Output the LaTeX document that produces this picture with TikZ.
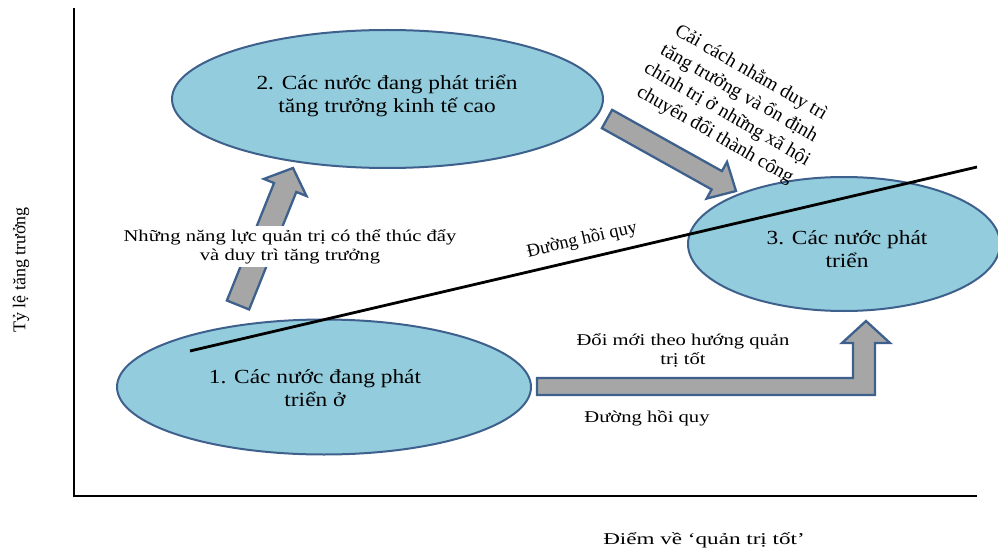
\documentclass[tikz,border=0pt]{standalone}
\usepackage{fontspec}
\setmainfont{Liberation Serif}
\newfontfamily\ellfont[FakeStretch=1.17]{Liberation Serif}
\newfontfamily\lblfont[FakeStretch=1.25]{Liberation Serif}
\newfontfamily\axfont[FakeStretch=1.4]{Liberation Serif}
\usetikzlibrary{calc,shapes.geometric}

\definecolor{ellfill}{RGB}{147,204,221}
\definecolor{ellline}{RGB}{62,96,140}
\definecolor{arrfill}{RGB}{166,166,166}

% block arrow: #1 tail, #2 tip, #3 half shaft width, #4 half head width, #5 head length
\newcommand\blockarrow[5]{%
  \coordinate (hb) at ($(#2)!#5!(#1)$);
  \filldraw[blockarr]
    ($(#1)!#3!90:(#2)$) -- ($(hb)!#3!90:(#2)$) -- ($(hb)!#4!90:(#2)$) -- (#2)
    -- ($(hb)!#4!-90:(#2)$) -- ($(hb)!#3!-90:(#2)$) -- ($(#1)!#3!-90:(#2)$) -- cycle;
}

\begin{document}
\begin{tikzpicture}[x=1pt,y=-1pt,
  region/.style={ellipse, draw=ellline, fill=ellfill, line width=2pt, inner sep=0pt},
  blockarr/.style={draw=ellline, fill=arrfill, line width=2.3pt, line join=miter},
  elltext/.style={align=center, font=\ellfont\fontsize{20}{23}\selectfont},
  lbltext/.style={align=center, font=\lblfont\fontsize{16.5}{19}\selectfont},
  axis/.style={line width=2.6pt},
  regline/.style={line width=2.8pt}]
\useasboundingbox (0,0) rectangle (998,548);

% axes
\coordinate (origin) at (74,496);
\coordinate (ytop) at (74,8);
\coordinate (xend) at (977,496);
\draw[axis] (ytop) -- (origin) -- (xend);

% country groups
\node[region, minimum width=414pt, minimum height=135pt] (g1) at (324,387) {};
\node[region, minimum width=431pt, minimum height=138pt] (g2) at (387.5,99) {};
\node[region, minimum width=312pt, minimum height=134pt] (g3) at (844,244) {};

% transitions between the groups
\coordinate (a1tail) at (238,305);
\coordinate (a1tip) at (293,168);
\blockarrow{a1tail}{a1tip}{12pt}{23pt}{21pt}

\coordinate (a2tail) at (607,119);
\coordinate (a2tip) at (736,191);
\blockarrow{a2tail}{a2tip}{10.5pt}{21pt}{22pt}

\filldraw[blockarr] (537,378) -- (853,378) -- (853,343) -- (842,343) -- (866,321)
  -- (890,343) -- (875,343) -- (875,395) -- (537,395) -- cycle;

% regression line
\coordinate (r1) at (190,351);
\coordinate (r2) at (977,167);
\draw[regline] (r1) -- (r2);

% texts
\node[elltext] (t2) at (387,95.5) {2. Các nước đang phát triển\\tăng trưởng kinh tế cao};
\node[elltext] (t1) at (315,388.5) {1. Các nước đang phát\\triển ở};
\node[elltext] (t3) at (847,249) {3. Các nước phát\\triển};

\node[lbltext, fill=white, inner sep=3pt] (l1) at (290,246.5)
  {Những năng lực quản trị có thể thúc đẩy\\và duy trì tăng trưởng};
\node[lbltext] (l2) at (683,350) {Đổi mới theo hướng quản\\trị tốt};
\node[lbltext] (l3) at (647,418) {Đường hồi quy};

\node[rotate=13, font=\fontsize{18.5}{22}\selectfont] (l4) at (582,240) {Đường hồi quy};
\node[rotate=-30, align=center, font=\fontsize{19.5}{24}\selectfont] (l5) at (733,104)
  {Cải cách nhằm duy trì\\tăng trưởng và ổn định\\chính trị ở những xã hội\\chuyển đổi thành công};

\node[rotate=90, font=\fontsize{18}{21}\selectfont] (ylab) at (21,270) {Tỷ lệ tăng trưởng};
\node[font=\axfont\fontsize{16.5}{19}\selectfont] (xlab) at (704,540) {Điểm về ‘quản trị tốt’};
\end{tikzpicture}
\end{document}
